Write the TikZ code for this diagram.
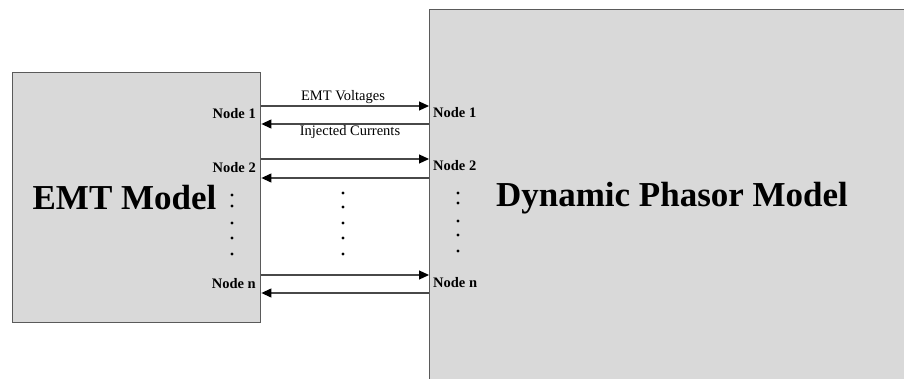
\documentclass[tikz,border=0pt]{standalone}
\usepackage{fontspec}
\setmainfont{Liberation Serif}
\usetikzlibrary{arrows.meta}
\definecolor{boxfill}{HTML}{D9D9D9}
\definecolor{edge}{HTML}{5A5A5A}
\begin{document}
\begin{tikzpicture}[x=1pt,y=-1pt,
  model/.style={draw=edge,line width=1.4pt,fill=boxfill,inner sep=0pt},
  link/.style={draw=edge!80!black,line width=1.2pt,-{Triangle[length=10pt,width=9pt,color=black,fill=black]}},
  portlbl/.style={font=\fontsize{14.5}{16}\selectfont\bfseries,inner sep=0pt},
  flowlbl/.style={font=\fontsize{14.5}{16}\selectfont,inner sep=0pt},
  title/.style={font=\fontsize{35}{40}\selectfont\bfseries,inner sep=0pt},
  vdot/.style={circle,fill=black,inner sep=0pt,minimum size=3.4pt}]
\useasboundingbox (0,0) rectangle (904,379);
\clip (0,0) rectangle (904,379);

% the two models
\node[model,anchor=north west,minimum width=248pt,minimum height=250pt] (emt) at (12,72) {};
\node[model,anchor=north west,minimum width=490pt,minimum height=390pt] (dp) at (429,9) {};
\node[title] (emttxt) at (124.5,198) {EMT Model};
\node[title] (dptxt) at (672,198) {Dynamic Phasor Model};

% port coordinates on the box edges
\foreach \n/\f/\b in {1/106/124, 2/159/178, n/275/293}{
  \coordinate (eo\n) at (emt.east |- 0,\f);
  \coordinate (di\n) at (dp.west |- 0,\f);
  \coordinate (do\n) at (dp.west |- 0,\b);
  \coordinate (ei\n) at (emt.east |- 0,\b);
  \draw[link] (eo\n) -- (di\n);
  \draw[link] (do\n) -- (ei\n);
}

% port labels
\node[portlbl,anchor=east] (pl1) at (256,114) {Node 1};
\node[portlbl,anchor=east] (pl2) at (256,168) {Node 2};
\node[portlbl,anchor=east] (pln) at (256,284) {Node n};
\node[portlbl,anchor=west] (pr1) at (433,113) {Node 1};
\node[portlbl,anchor=west] (pr2) at (433,166) {Node 2};
\node[portlbl,anchor=west] (prn) at (433,283) {Node n};

% exchanged quantities
\node[flowlbl] (volt) at (343,97) {EMT Voltages};
\node[flowlbl] (curr) at (350,132) {Injected Currents};

% ellipsis dots for the remaining nodes
\foreach \y in {195,206,223,238,254} \node[vdot] at (232,\y) {};
\foreach \y in {193,207,223,238,254} \node[vdot] at (343,\y) {};
\foreach \y in {193,203,221,235,251} \node[vdot] at (458,\y) {};
\end{tikzpicture}
\end{document}
